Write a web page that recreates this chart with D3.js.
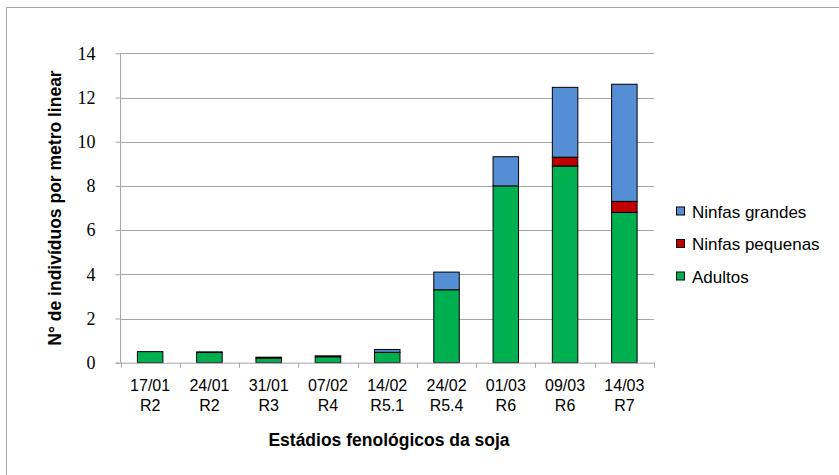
<!DOCTYPE html>
<html><head><meta charset="utf-8">
<script src="https://cdn.jsdelivr.net/npm/d3@7/dist/d3.min.js"></script>
<style>body{margin:0;background:#fff}svg{display:block}</style>
</head><body>
<svg id="c" width="839" height="475"></svg>
<script>
const dates = ["17/01","24/01","31/01","07/02","14/02","24/02","01/03","09/03","14/03"];
const stages = ["R2","R2","R3","R4","R5.1","R5.4","R6","R6","R7"];
const adultos = [0.5, 0.46, 0.21, 0.27, 0.47, 3.3, 8.0, 8.9, 6.8];
const ninfasPequenas = [0, 0.03, 0.04, 0.04, 0.0, 0.0, 0.0, 0.4, 0.5];
const ninfasGrandes = [0, 0, 0, 0, 0.13, 0.8, 1.32, 3.16, 5.3];
const seriesNames = ["Adultos","Ninfas pequenas","Ninfas grandes"];
const colors = {"Adultos":"#00B050","Ninfas pequenas":"#C00000","Ninfas grandes":"#558ED5"};
const yTicks = [0,2,4,6,8,10,12,14];

const svg = d3.select("#c");
svg.append("rect").attr("x",6.5).attr("y",7.5).attr("width",850).attr("height",500)
  .attr("fill","#fff").attr("stroke","#a6a6a6").attr("stroke-width",1);

const L=120.5, R=654, T=53.3, B=362.7;
const x = d3.scaleBand().domain(d3.range(dates.length)).range([L,R]).paddingInner(0.57).paddingOuter(0.285);
const y = d3.scaleLinear().domain([0,14]).range([B,T]);

const g = svg.append("g");
g.selectAll(".grid").data(yTicks.filter(d=>d>0)).enter().append("line")
  .attr("x1",L).attr("x2",R).attr("y1",d=>Math.round(y(d))+0.5).attr("y2",d=>Math.round(y(d))+0.5)
  .attr("stroke","#a6a6a6").attr("stroke-width",1);

const yAxis = d3.axisLeft(y).tickValues(yTicks).tickSize(5).tickPadding(20).tickFormat(d3.format("d"));
const ya = svg.append("g").attr("transform",`translate(${L},0)`).call(yAxis);
ya.attr("font-family",null);
ya.select(".domain").attr("stroke","#a6a6a6").attr("d",`M0,${B}V${T}`);
ya.selectAll(".tick line").attr("stroke","#a6a6a6");
ya.selectAll(".tick text").style("font-family","'Liberation Serif','Times New Roman',serif").attr("font-size",18).attr("fill","#000");

const rows = dates.map((d,i)=>({i, "Adultos":adultos[i], "Ninfas pequenas":ninfasPequenas[i], "Ninfas grandes":ninfasGrandes[i]}));
const stack = d3.stack().keys(seriesNames)(rows);
stack.forEach(s=>{
  g.selectAll(null).data(s.filter(d=>d[1]-d[0]>0)).enter().append("rect")
    .attr("x",d=>x(d.data.i)).attr("width",x.bandwidth())
    .attr("y",d=>y(d[1])).attr("height",d=>y(d[0])-y(d[1]))
    .attr("fill",colors[s.key]).attr("stroke","#000").attr("stroke-width",1);
});

const xa = svg.append("g").attr("transform",`translate(0,${B})`);
xa.append("line").attr("x1",L-5).attr("x2",R).attr("y1",0.5).attr("y2",0.5).attr("stroke","#a6a6a6");
const bounds = d3.range(dates.length+1).map(k=>L + k*(R-L)/dates.length);
xa.selectAll(".xt").data(bounds).enter().append("line")
  .attr("x1",d=>Math.round(d)+0.5).attr("x2",d=>Math.round(d)+0.5).attr("y1",0).attr("y2",5)
  .attr("stroke","#a6a6a6");
const lab = xa.selectAll(".xl").data(dates).enter().append("text")
  .attr("font-family","'Liberation Sans',Arial,sans-serif").attr("font-size",16).attr("fill","#000")
  .attr("text-anchor","middle");
lab.append("tspan").attr("x",(d,i)=>x(i)+x.bandwidth()/2).attr("y",28).text(d=>d);
lab.append("tspan").attr("x",(d,i)=>x(i)+x.bandwidth()/2).attr("y",48).text((d,i)=>stages[i]);

svg.append("text").attr("x",389).attr("y",446).attr("text-anchor","middle")
  .attr("font-family","'Liberation Sans',Arial,sans-serif").attr("font-weight","bold").attr("font-size",17.5)
  .text("Estádios fenológicos da soja");
svg.append("text").attr("transform",`translate(61,${(T+B)/2}) rotate(-90)`).attr("text-anchor","middle")
  .attr("font-family","'Liberation Sans',Arial,sans-serif").attr("font-weight","bold").attr("font-size",17.5)
  .text("N° de indivíduos por metro linear");

const leg = ["Ninfas grandes","Ninfas pequenas","Adultos"];
const lg = svg.append("g").selectAll("g").data(leg).enter().append("g")
  .attr("transform",(d,i)=>`translate(676,${211.5+i*32.5})`);
lg.append("rect").attr("x",0.5).attr("y",-4.5).attr("width",8).attr("height",8)
  .attr("fill",d=>colors[d]).attr("stroke","#000").attr("stroke-width",1);
lg.append("text").attr("x",16).attr("y",6).attr("font-family","'Liberation Sans',Arial,sans-serif")
  .attr("font-size",17).attr("fill","#000").text(d=>d);
</script>
</body></html>
